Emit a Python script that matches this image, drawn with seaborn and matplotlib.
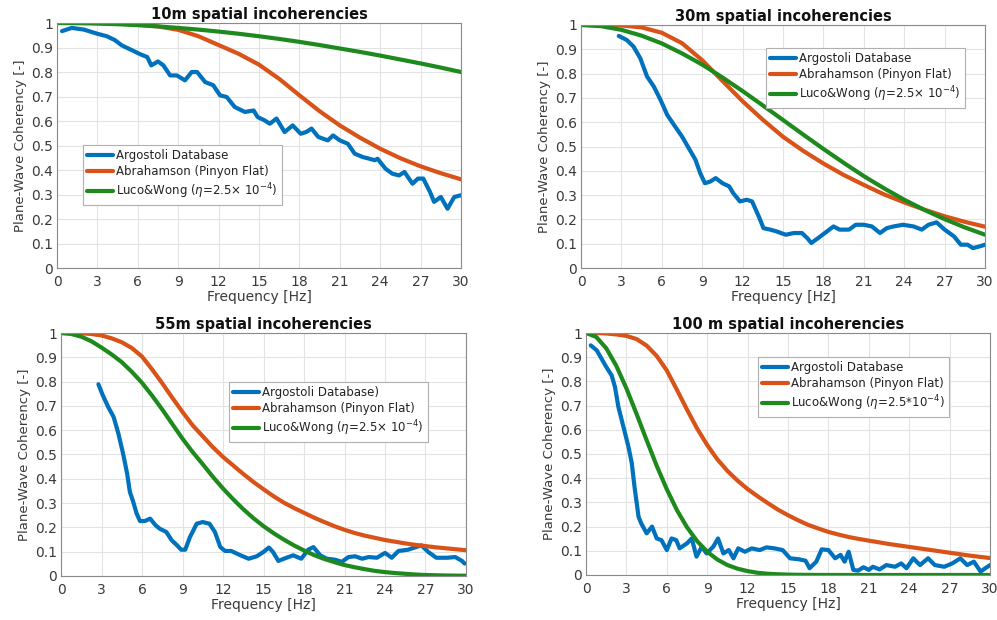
import numpy as np
import pandas as pd
import seaborn as sns
import matplotlib
matplotlib.use("Agg")
import matplotlib.pyplot as plt

# ---------------- data ----------------
freq_model = [0, 1.5, 3, 4.5, 6, 7.5, 9, 10.5, 12, 13.5, 15, 16.5, 18, 19.5, 21,
              22.5, 24, 25.5, 27, 28.5, 30]
freq_fine = [0, 0.75, 1.5, 2.25, 3, 3.75, 4.5, 5.25, 6, 6.75, 7.5, 8.25, 9, 9.75,
             10.5, 11.25, 12, 12.75, 13.5, 14.25, 15, 15.75, 16.5, 17.25, 18, 18.75,
             19.5, 20.25, 21, 21.75, 22.5, 23.25, 24, 24.75, 25.5, 26.25, 27, 27.75,
             28.5, 29.25, 30]

# 10 m
abr_10 = [1.0, 1.0, 1.0, 0.998, 0.994, 0.986, 0.972, 0.946, 0.91, 0.874, 0.830,
          0.772, 0.705, 0.64, 0.582, 0.532, 0.487, 0.448, 0.415, 0.387, 0.362]
luco_10 = [1.0, 0.9994, 0.9978, 0.995, 0.9911, 0.9861, 0.980, 0.973, 0.965, 0.956,
           0.946, 0.935, 0.923, 0.910, 0.896, 0.882, 0.867, 0.851, 0.835, 0.818, 0.800]
arg_10_f = [0.37, 1.1, 2.0, 3.0, 3.7, 4.3, 4.8, 5.6, 6.2, 6.7, 7.0, 7.5, 7.9, 8.4, 8.9,
            9.5, 10.0, 10.4, 11.0, 11.6, 12.1, 12.6, 13.2, 13.95, 14.6, 14.9, 15.4,
            15.8, 16.3, 16.9, 17.5, 18.1, 18.5, 18.9, 19.4, 20.1, 20.5, 21.0, 21.6,
            22.1, 22.7, 23.2, 23.6, 23.8, 24.4, 24.9, 25.4, 25.8, 26.4, 26.8, 27.2,
            27.7, 28.0, 28.5, 29.0, 29.5, 30.0]
arg_10_v = [0.967, 0.98, 0.973, 0.956, 0.946, 0.93, 0.909, 0.888, 0.872, 0.861, 0.827,
            0.843, 0.827, 0.786, 0.786, 0.766, 0.80, 0.80, 0.759, 0.746, 0.705, 0.698,
            0.657, 0.637, 0.643, 0.616, 0.603, 0.589, 0.61, 0.555, 0.582, 0.548, 0.555,
            0.569, 0.535, 0.521, 0.541, 0.521, 0.507, 0.467, 0.453, 0.446, 0.44, 0.446,
            0.405, 0.385, 0.378, 0.392, 0.344, 0.365, 0.365, 0.31, 0.27, 0.29, 0.242,
            0.29, 0.297]

# 30 m
abr_30 = [1.0, 1.0, 0.998, 0.99, 0.968, 0.925, 0.855, 0.77, 0.686, 0.61, 0.54, 0.482,
          0.43, 0.383, 0.342, 0.303, 0.27, 0.24, 0.213, 0.19, 0.17]
luco_30 = [1.0, 0.995, 0.980, 0.956, 0.924, 0.883, 0.837, 0.784, 0.728, 0.669, 0.609,
           0.549, 0.490, 0.433, 0.378, 0.328, 0.281, 0.239, 0.201, 0.167, 0.137]
arg_30_f = [2.8, 3.4, 3.9, 4.4, 4.9, 5.4, 5.9, 6.4, 6.9, 7.5, 8.0, 8.5, 8.85, 9.2, 9.6,
            10.0, 10.5, 11.0, 11.3, 11.8, 12.3, 12.7, 13.2, 13.55, 14.05, 14.5, 15.2,
            15.8, 16.4, 16.8, 17.1, 17.6, 18.1, 18.75, 19.2, 19.9, 20.4, 21.0, 21.6,
            22.2, 22.7, 23.2, 23.9, 24.7, 25.3, 25.8, 26.4, 27.0, 27.7, 28.2, 28.7,
            29.1, 29.6, 30.0]
arg_30_v = [0.955, 0.938, 0.911, 0.863, 0.788, 0.747, 0.692, 0.63, 0.589, 0.541, 0.493,
            0.445, 0.39, 0.349, 0.356, 0.37, 0.349, 0.336, 0.308, 0.274, 0.281, 0.274,
            0.212, 0.164, 0.158, 0.151, 0.137, 0.144, 0.144, 0.123, 0.103, 0.123, 0.144,
            0.171, 0.158, 0.158, 0.178, 0.178, 0.171, 0.144, 0.164, 0.171, 0.178, 0.171,
            0.158, 0.178, 0.188, 0.158, 0.130, 0.096, 0.096, 0.082, 0.089, 0.096]

# 55 m (model curves on the fine frequency list)
abr_55 = [1.0, 1.0, 0.999, 0.996, 0.99, 0.978, 0.962, 0.938, 0.903, 0.85, 0.793,
          0.733, 0.675, 0.62, 0.575, 0.53, 0.49, 0.455, 0.42, 0.387, 0.357, 0.328,
          0.302, 0.28, 0.26, 0.24, 0.222, 0.205, 0.19, 0.177, 0.166, 0.157, 0.148,
          0.141, 0.134, 0.128, 0.123, 0.118, 0.114, 0.11, 0.106]
luco_55 = [1.0, 0.996, 0.985, 0.966, 0.94, 0.912, 0.88, 0.84, 0.795, 0.742, 0.685,
           0.625, 0.565, 0.51, 0.46, 0.408, 0.36, 0.316, 0.275, 0.238, 0.205, 0.176,
           0.15, 0.126, 0.105, 0.086, 0.07, 0.057, 0.045, 0.036, 0.028, 0.021, 0.016,
           0.012, 0.009, 0.006, 0.004, 0.003, 0.002, 0.0015, 0.001]
arg_55_f = [2.77, 3.1, 3.5, 3.9, 4.25, 4.6, 4.9, 5.1, 5.35, 5.6, 5.85, 6.2, 6.6, 7.0,
            7.3, 7.8, 8.2, 8.6, 8.9, 9.2, 9.55, 10.05, 10.5, 11.0, 11.4, 11.8, 12.15,
            12.6, 13.3, 13.9, 14.5, 15.0, 15.4, 15.7, 16.1, 16.7, 17.2, 17.8, 18.3,
            18.7, 19.2, 19.7, 20.3, 20.8, 21.3, 21.8, 22.3, 22.8, 23.4, 24.0, 24.5,
            25.0, 25.7, 26.3, 26.7, 27.2, 27.8, 28.6, 29.2, 29.7, 29.9]
arg_55_v = [0.789, 0.743, 0.695, 0.654, 0.586, 0.503, 0.421, 0.346, 0.305, 0.257, 0.226,
            0.226, 0.236, 0.209, 0.195, 0.181, 0.147, 0.126, 0.108, 0.108, 0.16, 0.215,
            0.222, 0.215, 0.181, 0.119, 0.103, 0.103, 0.085, 0.071, 0.081, 0.099, 0.117,
            0.099, 0.062, 0.075, 0.085, 0.071, 0.108, 0.119, 0.085, 0.071, 0.067, 0.058,
            0.078, 0.081, 0.071, 0.078, 0.075, 0.095, 0.075, 0.103, 0.108, 0.119, 0.126,
            0.099, 0.075, 0.075, 0.078, 0.062, 0.051]

# 100 m (model curves on the fine frequency list)
abr_100 = [1.0, 1.0, 0.998, 0.994, 0.988, 0.975, 0.948, 0.905, 0.845, 0.765, 0.683,
           0.605, 0.537, 0.478, 0.43, 0.39, 0.355, 0.325, 0.297, 0.27, 0.247, 0.226,
           0.207, 0.192, 0.178, 0.167, 0.157, 0.149, 0.142, 0.135, 0.128, 0.122, 0.116,
           0.11, 0.104, 0.098, 0.092, 0.086, 0.08, 0.075, 0.07]
luco_100 = [1.0, 0.984, 0.937, 0.864, 0.771, 0.666, 0.557, 0.451, 0.354, 0.268, 0.197,
            0.140, 0.096, 0.064, 0.041, 0.026, 0.016, 0.009, 0.005, 0.003, 0.0015,
            0.0008, 0.0004, 0.0002, 0.0001, 0.0, 0.0, 0.0, 0.0, 0.0, 0.0, 0.0, 0.0,
            0.0, 0.0, 0.0, 0.0, 0.0, 0.0, 0.0, 0.0]
arg_100_f = [0.35, 0.8, 1.15, 1.5, 1.9, 2.15, 2.4, 2.65, 2.9, 3.15, 3.4, 3.6, 3.9, 4.1,
             4.5, 4.9, 5.25, 5.6, 6.0, 6.35, 6.7, 6.95, 7.5, 7.85, 8.2, 8.6, 8.95, 9.45,
             9.8, 10.2, 10.6, 10.95, 11.3, 11.8, 12.3, 12.9, 13.4, 14.0, 14.6, 15.15,
             15.8, 16.3, 16.6, 17.1, 17.5, 18.0, 18.5, 18.9, 19.2, 19.5, 19.85, 20.2,
             20.6, 21.0, 21.3, 21.8, 22.3, 22.95, 23.4, 23.8, 24.3, 24.8, 25.4, 25.9,
             26.6, 27.2, 27.8, 28.3, 28.8, 29.3, 29.65, 30.0]
arg_100_v = [0.949, 0.928, 0.894, 0.86, 0.825, 0.777, 0.695, 0.64, 0.585, 0.53, 0.461,
             0.364, 0.241, 0.213, 0.172, 0.2, 0.151, 0.144, 0.103, 0.151, 0.144, 0.11,
             0.131, 0.151, 0.076, 0.117, 0.089, 0.117, 0.151, 0.089, 0.103, 0.069, 0.11,
             0.096, 0.11, 0.103, 0.114, 0.11, 0.103, 0.069, 0.065, 0.059, 0.028, 0.055,
             0.106, 0.103, 0.069, 0.083, 0.055, 0.096, 0.021, 0.018, 0.032, 0.021, 0.034,
             0.023, 0.041, 0.034, 0.048, 0.028, 0.069, 0.041, 0.069, 0.041, 0.034, 0.048,
             0.069, 0.041, 0.055, 0.014, 0.028, 0.041]

titles = ["10m spatial incoherencies", "30m spatial incoherencies",
          "55m spatial incoherencies", "100 m spatial incoherencies"]
lab_arg = ["Argostoli Database", "Argostoli Database", "Argostoli Database)", "Argostoli Database"]
lab_abr = "Abrahamson (Pinyon Flat)"
lab_luco = ["Luco&Wong ($\\eta$=2.5$\\times$ 10$^{-4}$)"] * 3 + ["Luco&Wong ($\\eta$=2.5*10$^{-4}$)"]

x_ticks = [0, 3, 6, 9, 12, 15, 18, 21, 24, 27, 30]
y_ticks = [0, 0.1, 0.2, 0.3, 0.4, 0.5, 0.6, 0.7, 0.8, 0.9, 1]
y_labels = ["0", "0.1", "0.2", "0.3", "0.4", "0.5", "0.6", "0.7", "0.8", "0.9", "1"]

panels = [
    (arg_10_f, arg_10_v, freq_model, abr_10, luco_10),
    (arg_30_f, arg_30_v, freq_model, abr_30, luco_30),
    (arg_55_f, arg_55_v, freq_fine, abr_55, luco_55),
    (arg_100_f, arg_100_v, freq_fine, abr_100, luco_100),
]

# ---------------- styling ----------------
sns.set_theme(style="white")
plt.rcParams["font.family"] = ["DejaVu Sans"]
plt.rcParams["mathtext.fontset"] = "dejavusans"

C_BLUE = "#0072BD"
C_ORANGE = "#D95319"
C_GREEN = "#1E8A1E"
TXT = "#3a3a3a"

fig = plt.figure(figsize=(9.97, 6.2), dpi=100)
rects = [
    (0.0572, 0.5677, 0.4624 - 0.0572, 0.9629 - 0.5677),
    (0.5828, 0.5677, 0.9880 - 0.5828, 0.9597 - 0.5677),
    (0.0612, 0.0710, 0.4674 - 0.0612, 0.4629 - 0.0710),
    (0.5878, 0.0726, 0.9930 - 0.5878, 0.4629 - 0.0726),
]
legend_pos = [
    ("lower left", (0.064, 0.257)),
    ("upper right", (0.95, 0.905)),
    ("upper right", (0.906, 0.798)),
    ("upper right", (0.898, 0.90)),
]

for i, (af, av, mf, abr, luco) in enumerate(panels):
    ax = fig.add_axes(rects[i])
    df_arg = pd.DataFrame({"f": af, "v": av})
    df_mod = pd.DataFrame({"f": mf, "abr": abr, "luco": luco})
    sns.lineplot(data=df_arg, x="f", y="v", ax=ax, color=C_BLUE, lw=3,
                 label=lab_arg[i], estimator=None, sort=False)
    sns.lineplot(data=df_mod, x="f", y="abr", ax=ax, color=C_ORANGE, lw=3,
                 label=lab_abr, estimator=None, sort=False)
    sns.lineplot(data=df_mod, x="f", y="luco", ax=ax, color=C_GREEN, lw=3,
                 label=lab_luco[i], estimator=None, sort=False)
    ax.set_xlim(0, 30)
    ax.set_ylim(0, 1)
    ax.set_xticks(x_ticks)
    ax.set_yticks(y_ticks)
    ax.set_yticklabels(y_labels)
    ax.grid(True, color="#e3e3e3", lw=0.8)
    ax.set_axisbelow(True)
    for sp in ax.spines.values():
        sp.set_color("#8a8a8a")
        sp.set_linewidth(0.8)
    ax.tick_params(axis="both", labelsize=10, length=3, direction="in", pad=3,
                   colors="#8a8a8a", labelcolor=TXT)
    ax.tick_params(axis="x", pad=5)
    ax.set_xlabel("Frequency [Hz]", fontsize=10, color=TXT, labelpad=1)
    ax.set_ylabel("Plane-Wave Coherency [-]", fontsize=9.5, color=TXT, labelpad=3)
    ax.set_title(titles[i], fontsize=10.5, fontweight="bold", pad=3, color="#111111")
    loc, anchor = legend_pos[i]
    leg = ax.legend(loc=loc, bbox_to_anchor=anchor, fontsize=8.5, frameon=True,
                    fancybox=False, edgecolor="#b0b0b0", framealpha=1,
                    handlelength=2.2, handletextpad=0.25, borderpad=0.35,
                    labelspacing=0.25, borderaxespad=0)
    leg.get_frame().set_linewidth(0.8)
    for t in leg.get_texts():
        t.set_color("#222222")

fig.savefig("out.png", dpi=100)
